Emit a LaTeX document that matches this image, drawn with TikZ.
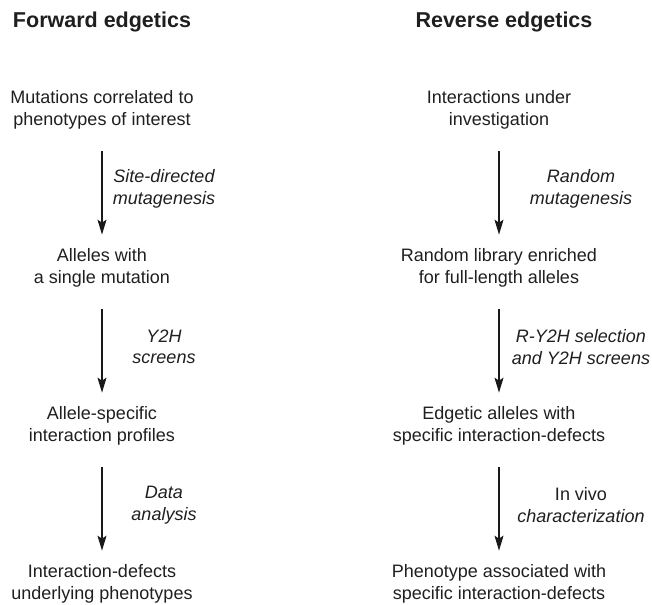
\documentclass[tikz,border=0pt]{standalone}
\usepackage{fontspec}
\setmainfont{Liberation Sans}
\usetikzlibrary{positioning, arrows.meta}
\tikzset{
    node distance=158pt, % Distance between the centres of two steps
    every node/.style={ % Plain text, no frame
        font=\fontsize{18}{21.5}\selectfont,
        text=black!88,
        align=center,
        inner sep=0pt
    },
    title/.style={font=\fontsize{21.5}{25}\selectfont\bfseries},
    method/.style={ % Label beside an arrow
        font=\fontsize{18}{21.5}\selectfont\itshape,
        xshift=#1
    },
    every edge/.style={ % Arrows between the steps
        draw=black!90,
        -{Stealth[length=15pt,width=9pt,inset=3pt]},
        line width=1.3pt,
        shorten <=22pt,
        shorten >=14pt
    }
}
\begin{document}
\begin{tikzpicture}[x=1pt,y=1pt]
    \useasboundingbox (0,0) rectangle (652,-604);
    \node[title] (fwd) at (102,-22) {Forward edgetics};
    \node[title] (rev) at (504,-22) {Reverse edgetics};
    % forward column
    \node[below of=fwd, node distance=88pt] (f1) {Mutations correlated to\\phenotypes of interest};
    \node[below of=f1] (f2) {Alleles with\\a single mutation};
    \node[below of=f2] (f3) {Allele-specific\\interaction profiles};
    \node[below of=f3] (f4) {Interaction-defects\\underlying phenotypes};
    % reverse column
    \node[below of=rev, node distance=88pt, xshift=-5pt] (r1) {Interactions under\\investigation};
    \node[below of=r1] (r2) {Random library enriched\\for full-length alleles};
    \node[below of=r2] (r3) {Edgetic alleles with\\specific interaction-defects};
    \node[below of=r3] (r4) {Phenotype associated with\\specific interaction-defects};
    \draw (f1) edge node[method=62pt] {Site-directed\\mutagenesis} (f2)
        (f2) edge node[method=62pt] {Y2H\\screens} (f3)
        (f3) edge node[method=62pt] {Data\\analysis} (f4);
    \draw (r1) edge node[method=82pt] {Random\\mutagenesis} (r2)
        (r2) edge node[method=82pt] {R-Y2H selection\\and Y2H screens} (r3)
        (r3) edge node[method=82pt] {{\upshape In vivo}\\characterization} (r4);
\end{tikzpicture}
\end{document}
